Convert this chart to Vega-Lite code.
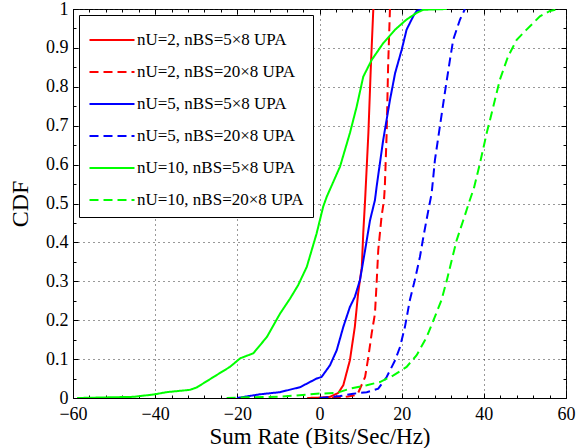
{
  "$schema": "https://vega.github.io/schema/vega-lite/v6.json",
  "width": 493,
  "height": 389,
  "autosize": {"type": "none"},
  "padding": {"left": 73, "top": 9, "right": 16, "bottom": 50},
  "background": "white",
  "config": {
    "view": {"stroke": "black", "strokeWidth": 1},
    "font": "Liberation Serif",
    "axis": {
      "domainColor": "black",
      "tickColor": "black",
      "labelColor": "black",
      "titleColor": "black",
      "labelFont": "Liberation Serif",
      "titleFont": "Liberation Serif",
      "labelFontSize": 18,
      "titleFontSize": 23,
      "titleFontWeight": "normal",
      "gridColor": "#333",
      "gridDash": [1, 4],
      "gridWidth": 1
    }
  },
  "data": {
    "values": [
      {"s": "nU=2, nBS=5×8 UPA", "x": -3, "y": 0},
      {"s": "nU=2, nBS=5×8 UPA", "x": 0, "y": 0.001},
      {"s": "nU=2, nBS=5×8 UPA", "x": 2.55, "y": 0.003},
      {"s": "nU=2, nBS=5×8 UPA", "x": 4.57, "y": 0.013},
      {"s": "nU=2, nBS=5×8 UPA", "x": 5.8, "y": 0.033},
      {"s": "nU=2, nBS=5×8 UPA", "x": 7.4, "y": 0.097},
      {"s": "nU=2, nBS=5×8 UPA", "x": 8.6, "y": 0.183},
      {"s": "nU=2, nBS=5×8 UPA", "x": 9.4, "y": 0.269},
      {"s": "nU=2, nBS=5×8 UPA", "x": 10.3, "y": 0.337},
      {"s": "nU=2, nBS=5×8 UPA", "x": 10.65, "y": 0.424},
      {"s": "nU=2, nBS=5×8 UPA", "x": 11.1, "y": 0.509},
      {"s": "nU=2, nBS=5×8 UPA", "x": 11.9, "y": 0.681},
      {"s": "nU=2, nBS=5×8 UPA", "x": 12.5, "y": 0.852},
      {"s": "nU=2, nBS=5×8 UPA", "x": 13.1, "y": 1.0},

      {"s": "nU=2, nBS=20×8 UPA", "x": 3, "y": 0},
      {"s": "nU=2, nBS=20×8 UPA", "x": 7, "y": 0.004},
      {"s": "nU=2, nBS=20×8 UPA", "x": 9.05, "y": 0.008},
      {"s": "nU=2, nBS=20×8 UPA", "x": 9.4, "y": 0.013},
      {"s": "nU=2, nBS=20×8 UPA", "x": 11.1, "y": 0.054},
      {"s": "nU=2, nBS=20×8 UPA", "x": 11.9, "y": 0.106},
      {"s": "nU=2, nBS=20×8 UPA", "x": 12.7, "y": 0.166},
      {"s": "nU=2, nBS=20×8 UPA", "x": 13.5, "y": 0.217},
      {"s": "nU=2, nBS=20×8 UPA", "x": 13.9, "y": 0.295},
      {"s": "nU=2, nBS=20×8 UPA", "x": 14.3, "y": 0.38},
      {"s": "nU=2, nBS=20×8 UPA", "x": 15.1, "y": 0.466},
      {"s": "nU=2, nBS=20×8 UPA", "x": 15.7, "y": 0.509},
      {"s": "nU=2, nBS=20×8 UPA", "x": 15.9, "y": 0.543},
      {"s": "nU=2, nBS=20×8 UPA", "x": 16.35, "y": 0.681},
      {"s": "nU=2, nBS=20×8 UPA", "x": 16.7, "y": 0.852},
      {"s": "nU=2, nBS=20×8 UPA", "x": 17.15, "y": 1.0},

      {"s": "nU=5, nBS=5×8 UPA", "x": -20.1, "y": 0},
      {"s": "nU=5, nBS=5×8 UPA", "x": -14.5, "y": 0.0095},
      {"s": "nU=5, nBS=5×8 UPA", "x": -9.6, "y": 0.015},
      {"s": "nU=5, nBS=5×8 UPA", "x": -4.7, "y": 0.028},
      {"s": "nU=5, nBS=5×8 UPA", "x": -0.7, "y": 0.05},
      {"s": "nU=5, nBS=5×8 UPA", "x": 0.5, "y": 0.054},
      {"s": "nU=5, nBS=5×8 UPA", "x": 2.55, "y": 0.084},
      {"s": "nU=5, nBS=5×8 UPA", "x": 4.2, "y": 0.123},
      {"s": "nU=5, nBS=5×8 UPA", "x": 5.8, "y": 0.183},
      {"s": "nU=5, nBS=5×8 UPA", "x": 7.4, "y": 0.234},
      {"s": "nU=5, nBS=5×8 UPA", "x": 8.6, "y": 0.26},
      {"s": "nU=5, nBS=5×8 UPA", "x": 9.85, "y": 0.303},
      {"s": "nU=5, nBS=5×8 UPA", "x": 11.1, "y": 0.38},
      {"s": "nU=5, nBS=5×8 UPA", "x": 12.3, "y": 0.457},
      {"s": "nU=5, nBS=5×8 UPA", "x": 13.5, "y": 0.509},
      {"s": "nU=5, nBS=5×8 UPA", "x": 13.9, "y": 0.543},
      {"s": "nU=5, nBS=5×8 UPA", "x": 15.5, "y": 0.663},
      {"s": "nU=5, nBS=5×8 UPA", "x": 17.15, "y": 0.766},
      {"s": "nU=5, nBS=5×8 UPA", "x": 18.4, "y": 0.835},
      {"s": "nU=5, nBS=5×8 UPA", "x": 20, "y": 0.895},
      {"s": "nU=5, nBS=5×8 UPA", "x": 21.2, "y": 0.947},
      {"s": "nU=5, nBS=5×8 UPA", "x": 22.8, "y": 0.981},
      {"s": "nU=5, nBS=5×8 UPA", "x": 23.65, "y": 0.995},
      {"s": "nU=5, nBS=5×8 UPA", "x": 25, "y": 1.0},

      {"s": "nU=5, nBS=20×8 UPA", "x": 0, "y": 0},
      {"s": "nU=5, nBS=20×8 UPA", "x": 5, "y": 0.005},
      {"s": "nU=5, nBS=20×8 UPA", "x": 8.2, "y": 0.011},
      {"s": "nU=5, nBS=20×8 UPA", "x": 11.5, "y": 0.015},
      {"s": "nU=5, nBS=20×8 UPA", "x": 14.3, "y": 0.024},
      {"s": "nU=5, nBS=20×8 UPA", "x": 16.35, "y": 0.054},
      {"s": "nU=5, nBS=20×8 UPA", "x": 18.4, "y": 0.097},
      {"s": "nU=5, nBS=20×8 UPA", "x": 19.6, "y": 0.131},
      {"s": "nU=5, nBS=20×8 UPA", "x": 20.8, "y": 0.183},
      {"s": "nU=5, nBS=20×8 UPA", "x": 22, "y": 0.252},
      {"s": "nU=5, nBS=20×8 UPA", "x": 23.2, "y": 0.303},
      {"s": "nU=5, nBS=20×8 UPA", "x": 24.45, "y": 0.363},
      {"s": "nU=5, nBS=20×8 UPA", "x": 25.3, "y": 0.415},
      {"s": "nU=5, nBS=20×8 UPA", "x": 26.5, "y": 0.483},
      {"s": "nU=5, nBS=20×8 UPA", "x": 27.3, "y": 0.526},
      {"s": "nU=5, nBS=20×8 UPA", "x": 28.1, "y": 0.612},
      {"s": "nU=5, nBS=20×8 UPA", "x": 29.3, "y": 0.698},
      {"s": "nU=5, nBS=20×8 UPA", "x": 30.5, "y": 0.784},
      {"s": "nU=5, nBS=20×8 UPA", "x": 31.75, "y": 0.869},
      {"s": "nU=5, nBS=20×8 UPA", "x": 32.55, "y": 0.921},
      {"s": "nU=5, nBS=20×8 UPA", "x": 34.2, "y": 0.973},
      {"s": "nU=5, nBS=20×8 UPA", "x": 35.4, "y": 1.0},

      {"s": "nU=10, nBS=5×8 UPA", "x": -59, "y": 0},
      {"s": "nU=10, nBS=5×8 UPA", "x": -45.3, "y": 0.003},
      {"s": "nU=10, nBS=5×8 UPA", "x": -40.4, "y": 0.009},
      {"s": "nU=10, nBS=5×8 UPA", "x": -37.2, "y": 0.015},
      {"s": "nU=10, nBS=5×8 UPA", "x": -31.5, "y": 0.021},
      {"s": "nU=10, nBS=5×8 UPA", "x": -29.9, "y": 0.027},
      {"s": "nU=10, nBS=5×8 UPA", "x": -25.8, "y": 0.054},
      {"s": "nU=10, nBS=5×8 UPA", "x": -21.8, "y": 0.08},
      {"s": "nU=10, nBS=5×8 UPA", "x": -19.3, "y": 0.102},
      {"s": "nU=10, nBS=5×8 UPA", "x": -16.1, "y": 0.115},
      {"s": "nU=10, nBS=5×8 UPA", "x": -12.8, "y": 0.157},
      {"s": "nU=10, nBS=5×8 UPA", "x": -9.6, "y": 0.217},
      {"s": "nU=10, nBS=5×8 UPA", "x": -7.2, "y": 0.255},
      {"s": "nU=10, nBS=5×8 UPA", "x": -5.2, "y": 0.29},
      {"s": "nU=10, nBS=5×8 UPA", "x": -3.1, "y": 0.337},
      {"s": "nU=10, nBS=5×8 UPA", "x": -0.7, "y": 0.423},
      {"s": "nU=10, nBS=5×8 UPA", "x": 0.9, "y": 0.492},
      {"s": "nU=10, nBS=5×8 UPA", "x": 1.75, "y": 0.517},
      {"s": "nU=10, nBS=5×8 UPA", "x": 5, "y": 0.595},
      {"s": "nU=10, nBS=5×8 UPA", "x": 7.4, "y": 0.681},
      {"s": "nU=10, nBS=5×8 UPA", "x": 9.05, "y": 0.749},
      {"s": "nU=10, nBS=5×8 UPA", "x": 10.65, "y": 0.826},
      {"s": "nU=10, nBS=5×8 UPA", "x": 12.7, "y": 0.869},
      {"s": "nU=10, nBS=5×8 UPA", "x": 15.5, "y": 0.912},
      {"s": "nU=10, nBS=5×8 UPA", "x": 18.4, "y": 0.947},
      {"s": "nU=10, nBS=5×8 UPA", "x": 21.2, "y": 0.973},
      {"s": "nU=10, nBS=5×8 UPA", "x": 23.65, "y": 0.99},
      {"s": "nU=10, nBS=5×8 UPA", "x": 25.25, "y": 0.998},
      {"s": "nU=10, nBS=5×8 UPA", "x": 31, "y": 1.0},

      {"s": "nU=10, nBS=20×8 UPA", "x": -22.6, "y": 0},
      {"s": "nU=10, nBS=20×8 UPA", "x": -16, "y": 0.002},
      {"s": "nU=10, nBS=20×8 UPA", "x": -9.6, "y": 0.003},
      {"s": "nU=10, nBS=20×8 UPA", "x": -0.7, "y": 0.011},
      {"s": "nU=10, nBS=20×8 UPA", "x": 4.2, "y": 0.013},
      {"s": "nU=10, nBS=20×8 UPA", "x": 7.4, "y": 0.024},
      {"s": "nU=10, nBS=20×8 UPA", "x": 11.5, "y": 0.033},
      {"s": "nU=10, nBS=20×8 UPA", "x": 14.7, "y": 0.041},
      {"s": "nU=10, nBS=20×8 UPA", "x": 18, "y": 0.058},
      {"s": "nU=10, nBS=20×8 UPA", "x": 21.2, "y": 0.08},
      {"s": "nU=10, nBS=20×8 UPA", "x": 23.65, "y": 0.11},
      {"s": "nU=10, nBS=20×8 UPA", "x": 26.1, "y": 0.157},
      {"s": "nU=10, nBS=20×8 UPA", "x": 28.1, "y": 0.209},
      {"s": "nU=10, nBS=20×8 UPA", "x": 29.7, "y": 0.252},
      {"s": "nU=10, nBS=20×8 UPA", "x": 31, "y": 0.303},
      {"s": "nU=10, nBS=20×8 UPA", "x": 32.2, "y": 0.355},
      {"s": "nU=10, nBS=20×8 UPA", "x": 33.4, "y": 0.406},
      {"s": "nU=10, nBS=20×8 UPA", "x": 35, "y": 0.457},
      {"s": "nU=10, nBS=20×8 UPA", "x": 36.6, "y": 0.509},
      {"s": "nU=10, nBS=20×8 UPA", "x": 37.6, "y": 0.54},
      {"s": "nU=10, nBS=20×8 UPA", "x": 39.05, "y": 0.603},
      {"s": "nU=10, nBS=20×8 UPA", "x": 40.7, "y": 0.681},
      {"s": "nU=10, nBS=20×8 UPA", "x": 42.3, "y": 0.749},
      {"s": "nU=10, nBS=20×8 UPA", "x": 43.9, "y": 0.818},
      {"s": "nU=10, nBS=20×8 UPA", "x": 45.9, "y": 0.878},
      {"s": "nU=10, nBS=20×8 UPA", "x": 48, "y": 0.921},
      {"s": "nU=10, nBS=20×8 UPA", "x": 50.4, "y": 0.947},
      {"s": "nU=10, nBS=20×8 UPA", "x": 53.65, "y": 0.981},
      {"s": "nU=10, nBS=20×8 UPA", "x": 56.1, "y": 0.995},
      {"s": "nU=10, nBS=20×8 UPA", "x": 58.5, "y": 1.0}
    ]
  },
  "layer": [
    {
      "mark": {"type": "line", "strokeWidth": 2, "clip": true},
      "encoding": {
        "x": {
          "field": "x", "type": "quantitative",
          "scale": {"domain": [-60, 60], "nice": false, "zero": false},
          "axis": {
            "orient": "bottom",
            "title": "Sum Rate (Bits/Sec/Hz)",
            "titleFontSize": 23,
            "labelFontSize": 18,
            "values": [-60,-56,-52,-48,-44,-40,-36,-32,-28,-24,-20,-16,-12,-8,-4,0,4,8,12,16,20,24,28,32,36,40,44,48,52,56,60],
            "labelExpr": "datum.value % 20 === 0 ? datum.label : ''",
            "grid": true,
            "gridOpacity": {"condition": {"test": "datum.value % 20 === 0", "value": 1}, "value": 0},
            "tickSize": {"condition": {"test": "datum.value % 20 === 0", "value": -5}, "value": -3},
            "labelPadding": 12,
            "labelFlush": false,
            "labelOverlap": false,
            "titlePadding": 0
          }
        },
        "y": {
          "field": "y", "type": "quantitative",
          "scale": {"domain": [0, 1], "nice": false},
          "axis": {
            "orient": "left",
            "title": "CDF",
            "titleFontSize": 24,
            "labelFontSize": 18,
            "values": [0,0.05,0.1,0.15,0.2,0.25,0.3,0.35,0.4,0.45,0.5,0.55,0.6,0.65,0.7,0.75,0.8,0.85,0.9,0.95,1],
            "labelExpr": "round(datum.value*100) % 10 === 0 ? (datum.value === 0 ? '0' : datum.value === 1 ? '1' : format(datum.value, '.1f')) : ''",
            "grid": true,
            "gridOpacity": {"condition": {"test": "round(datum.value*100) % 10 === 0", "value": 1}, "value": 0},
            "tickSize": {"condition": {"test": "round(datum.value*100) % 10 === 0", "value": -5}, "value": -3},
            "labelPadding": 10,
            "labelFlush": false,
            "labelOverlap": false,
            "titlePadding": 13
          }
        },
        "color": {
          "field": "s", "type": "nominal",
          "scale": {
            "domain": ["nU=2, nBS=5×8 UPA", "nU=2, nBS=20×8 UPA", "nU=5, nBS=5×8 UPA", "nU=5, nBS=20×8 UPA", "nU=10, nBS=5×8 UPA", "nU=10, nBS=20×8 UPA"],
            "range": ["#ff0000", "#ff0000", "#0000ff", "#0000ff", "#00ff00", "#00ff00"]
          },
          "legend": {
            "title": null,
            "orient": "top-left",
            "offset": 6,
            "fillColor": "white",
            "strokeColor": "black",
            "padding": 9,
            "symbolType": "M-1.5,0H1.5",
            "symbolSize": 900,
            "symbolStrokeWidth": 2,
            "symbolOffset": 8,
            "labelFont": "Liberation Serif",
            "labelFontSize": 17,
            "labelColor": "black",
            "labelLimit": 400,
            "labelOffset": 9,
            "rowPadding": 8
          }
        },
        "strokeDash": {
          "field": "s", "type": "nominal",
          "scale": {
            "domain": ["nU=2, nBS=5×8 UPA", "nU=2, nBS=20×8 UPA", "nU=5, nBS=5×8 UPA", "nU=5, nBS=20×8 UPA", "nU=10, nBS=5×8 UPA", "nU=10, nBS=20×8 UPA"],
            "range": [[1, 0], [9, 5], [1, 0], [9, 5], [1, 0], [9, 5]]
          },
          "legend": {
            "title": null,
            "orient": "top-left",
            "offset": 6,
            "fillColor": "white",
            "strokeColor": "black",
            "padding": 9,
            "symbolType": "M-1.5,0H1.5",
            "symbolSize": 900,
            "symbolStrokeWidth": 2,
            "symbolOffset": 8,
            "labelFont": "Liberation Serif",
            "labelFontSize": 17,
            "labelColor": "black",
            "labelLimit": 400,
            "labelOffset": 9,
            "rowPadding": 8
          }
        }
      }
    },
    {
      "mark": {"type": "point", "opacity": 0},
      "encoding": {
        "x": {
          "field": "x", "type": "quantitative",
          "axis": {
            "orient": "top", "title": null, "labels": false, "grid": false, "domain": false,
            "values": [-60,-56,-52,-48,-44,-40,-36,-32,-28,-24,-20,-16,-12,-8,-4,0,4,8,12,16,20,24,28,32,36,40,44,48,52,56,60],
            "tickSize": {"condition": {"test": "datum.value % 20 === 0", "value": -5}, "value": -3}
          }
        },
        "y": {
          "field": "y", "type": "quantitative",
          "axis": {
            "orient": "right", "title": null, "labels": false, "grid": false, "domain": false,
            "values": [0,0.05,0.1,0.15,0.2,0.25,0.3,0.35,0.4,0.45,0.5,0.55,0.6,0.65,0.7,0.75,0.8,0.85,0.9,0.95,1],
            "tickSize": {"condition": {"test": "round(datum.value*100) % 10 === 0", "value": -5}, "value": -3}
          }
        }
      }
    }
  ],
  "resolve": {"axis": {"x": "independent", "y": "independent"}}
}
